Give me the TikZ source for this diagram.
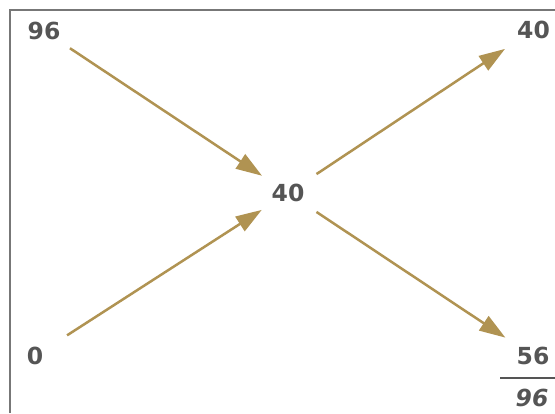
\documentclass[tikz,border=0pt]{standalone}
\usepackage{fontspec}
\setmainfont{DejaVu Sans}
\usepackage{tikz}
\usetikzlibrary{positioning,arrows.meta}
\definecolor{numgray}{HTML}{555555}
\definecolor{arrowgold}{HTML}{B09352}
\definecolor{framegray}{HTML}{777777}

\begin{document}
\begin{tikzpicture}[x=1pt,y=1pt,
    num/.style={circle, inner sep=0pt, minimum size=62pt, text=numgray,
      font=\fontsize{23.5}{27}\selectfont\bfseries},
    flow/.style={draw=arrowgold, line width=2.5pt,
      -{Triangle[length=26pt,width=17pt]}}]
  \useasboundingbox (0,0) rectangle (555,413);
  % frame
  \draw[framegray, line width=1.3pt] (10,0) -- (10,403) -- (555,403);
  % numbers
  \node[num] (high) at (44,382) {96};
  \node[num] (low) at (35,57) {0};
  \node[num] (mid) at (288,220) {40};
  \node[num] (top) at (533.5,383) {40};
  \node[num] (rest) at (533,57) {56};
  \node[num, font=\fontsize{23.5}{27}\selectfont\bfseries\itshape] (total) at (532,15) {96};
  % fraction bar
  \draw[numgray, line width=1.2pt] (500,35) -- (555,35);
  % arrows
  \draw[flow] (high) -- (mid);
  \draw[flow, shorten <=7pt] (low) -- (mid);
  \draw[flow, shorten <=3pt, shorten >=3pt] (mid) -- (top);
  \draw[flow, shorten <=3pt, shorten >=2pt] (mid) -- (rest);
\end{tikzpicture}
\end{document}
